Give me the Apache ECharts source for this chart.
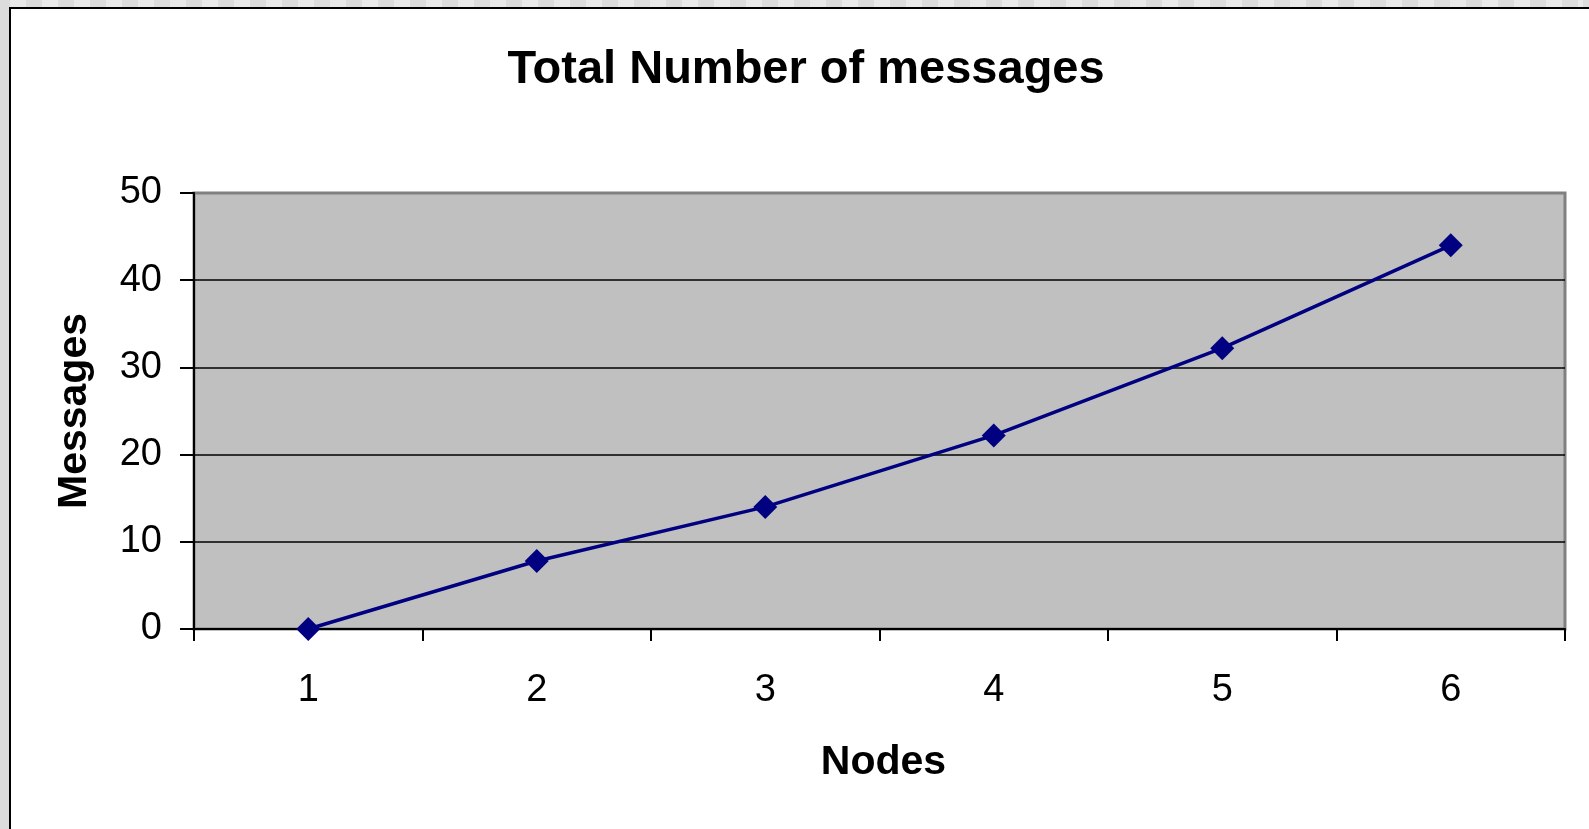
<!DOCTYPE html>
<html>
<head>
<meta charset="utf-8">
<title>Total Number of messages</title>
<script src="https://cdn.jsdelivr.net/npm/echarts@6/dist/echarts.min.js"></script>
<style>
  html, body { margin: 0; padding: 0; }
  body { width: 1589px; height: 829px; overflow: hidden; background: #dcdcdc; position: relative; }
  #strip {
    position: absolute; left: 0; top: 0; width: 1589px; height: 7px;
    background: repeating-linear-gradient(90deg, #dcdcdc 0 16px, #e9e9e9 16px 32px);
    background-position: -6px 0;
  }
  #frame {
    position: absolute; left: 9px; top: 7px; width: 1600px; height: 840px;
    background: #fff; border-left: 2px solid #000; border-top: 2px solid #000;
  }
  #chart { position: absolute; left: 0; top: 0; width: 1589px; height: 829px; }
</style>
</head>
<body>
<div id="strip"></div>
<div id="frame"></div>
<div id="chart"></div>
<script>
// data
const nodes = ['1', '2', '3', '4', '5', '6'];
const messages = [0, 7.8, 14, 22.2, 32.2, 44];
const yTicks = [0, 10, 20, 30, 40, 50];

const FONT = '"Liberation Sans", Arial, sans-serif';
const NAVY = '#000080';

const docReady = fn => {
  if (document.readyState === 'loading') {
    document.addEventListener('DOMContentLoaded', fn);
  } else {
    setTimeout(fn, 1);
  }
};

const messagesChartInit = () => {
  const $chart = document.getElementById('chart');
  const chart = echarts.init($chart, null, { renderer: 'canvas' });

  chart.setOption({
    animation: false,
    backgroundColor: 'transparent',
    title: {
      text: 'Total Number of messages',
      left: 801,
      top: 42,
      textAlign: 'center',
      textStyle: { fontFamily: FONT, fontSize: 47, fontWeight: 'bold', color: '#000' }
    },
    grid: {
      left: 194,
      top: 193,
      right: 24,
      bottom: 200,
      show: true,
      backgroundColor: '#c0c0c0',
      borderColor: '#808080',
      borderWidth: 3,
      outerBoundsMode: 'none'
    },
    xAxis: {
      type: 'category',
      data: nodes,
      boundaryGap: true,
      name: 'Nodes',
      nameLocation: 'middle',
      nameGap: 113,
      nameTextStyle: { fontFamily: FONT, fontSize: 41, fontWeight: 'bold', color: '#000', padding: [0, 0, 0, 8] },
      axisLine: { show: true, lineStyle: { color: '#000', width: 2 } },
      axisTick: { show: true, length: 12, lineStyle: { color: '#000', width: 2 } },
      axisLabel: { fontFamily: FONT, fontSize: 38, color: '#000', margin: 43 },
      splitLine: { show: false }
    },
    yAxis: {
      type: 'value',
      min: yTicks[0],
      max: yTicks[yTicks.length - 1],
      interval: yTicks[1] - yTicks[0],
      name: 'Messages',
      nameLocation: 'middle',
      nameRotate: 90,
      nameGap: 99,
      nameTextStyle: { fontFamily: FONT, fontSize: 41, fontWeight: 'bold', color: '#000' },
      axisLine: { show: true, lineStyle: { color: '#000', width: 2 } },
      axisTick: { show: true, length: 14, lineStyle: { color: '#000', width: 2 } },
      axisLabel: { fontFamily: FONT, fontSize: 38, color: '#000', margin: 32 },
      splitLine: { show: true, showMinLine: false, showMaxLine: false, lineStyle: { color: '#000', width: 1.6 } }
    },
    series: [
      {
        type: 'line',
        data: messages,
        symbol: 'diamond',
        symbolSize: 24,
        showSymbol: true,
        lineStyle: { color: NAVY, width: 3.5 },
        itemStyle: { color: NAVY },
        z: 5
      }
    ]
  });
};

docReady(messagesChartInit);
</script>
</body>
</html>
